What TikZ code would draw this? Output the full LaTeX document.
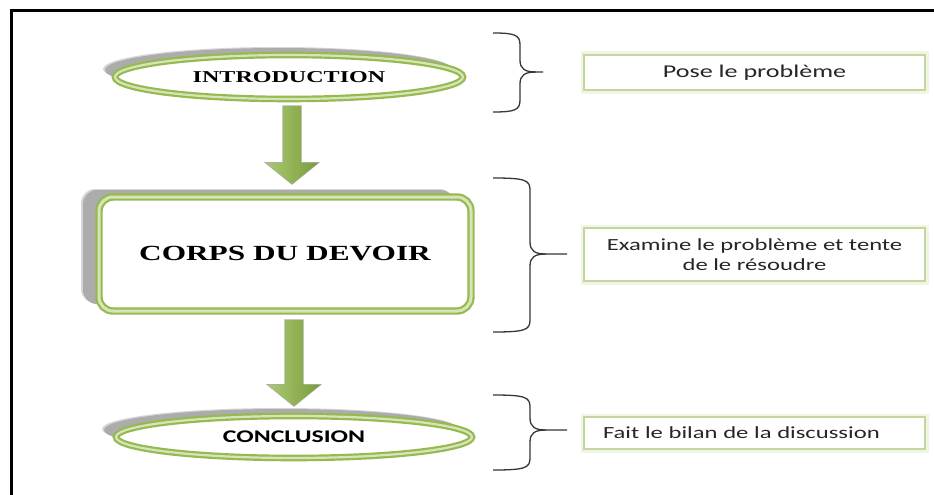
\documentclass[tikz,border=0pt]{standalone}
\usepackage{fontspec}
\usetikzlibrary{calc,shapes.geometric,shadows}
\newfontfamily\headfont[FakeStretch=1.45]{Liberation Serif}
\newfontfamily\bodyfont[FakeStretch=1.45]{Carlito}
\definecolor{leaf}{RGB}{150,186,80}
\definecolor{leafdark}{RGB}{120,158,55}
\definecolor{leaflight}{RGB}{214,228,186}
\definecolor{boxline}{RGB}{195,214,155}
\definecolor{shadeA}{RGB}{172,172,172}
\definecolor{shadeB}{RGB}{214,214,214}
\definecolor{braceink}{RGB}{55,55,55}

% right-hand curly brace: left end x, stem x, tip x, top y, middle y, bottom y
\newcommand\sidebrace[6]{%
  \draw[braceink, line width=1.3pt, line join=round]
    (#1,#4) .. controls (#2-5,#4) and (#2,#4+2) .. (#2,#4+12)
    -- (#2,#5-12) .. controls (#2,#5-3) and (#2+5,#5) .. (#2+16,#5) -- (#3,#5);
  \draw[braceink, line width=1.3pt, line join=round]
    (#2+16,#5) .. controls (#2+5,#5) and (#2,#5+3) .. (#2,#5+12)
    -- (#2,#6-12) .. controls (#2,#6-2) and (#2-5,#6) .. (#1,#6);
}

% block arrow pointing down, from coordinate #1 (top of shaft) to #2 (tip)
\newcommand\flowarrow[2]{%
  \draw[shadeA, line width=1.4pt, line join=miter, shift={(3.5pt,-3pt)}]
    let \p1=(#1), \p2=(#2) in
    (\x1-9pt,\y1) -- (\x1+9pt,\y1) -- (\x1+9pt,\y2+21pt) -- (\x1+26pt,\y2+21pt)
    -- (\x1,\y2) -- (\x1-26pt,\y2+21pt) -- (\x1-9pt,\y2+21pt) -- cycle;
  \shade[left color=leaf!80, right color=leafdark]
    let \p1=(#1), \p2=(#2) in
    (\x1-9pt,\y1) -- (\x1+9pt,\y1) -- (\x1+9pt,\y2+21pt) -- (\x1+26pt,\y2+21pt)
    -- (\x1,\y2) -- (\x1-26pt,\y2+21pt) -- (\x1-9pt,\y2+21pt) -- cycle;
}

\tikzset{
  ring/.style={draw=leaf, line width=2.2pt, double=leaflight, double distance=2.2pt, fill=white},
  softshadow/.style 2 args={
    general shadow={shadow xshift=#1-2pt, shadow yshift=#2+1pt, fill=shadeB},
    general shadow={shadow xshift=#1, shadow yshift=#2, fill=shadeA}},
  stage/.style={ellipse, ring, inner sep=0pt},
  bigstage/.style={rectangle, rounded corners=14pt, ring, double distance=3pt, inner sep=0pt},
  note/.style={draw=boxline, line width=2pt, fill=white, inner sep=0pt, align=center,
    preaction={draw=leaf!14, line width=7pt},
    font=\bodyfont\fontsize{17}{20.5}\selectfont, text=black!85},
  frameline/.style={line width=3pt, black}
}

\begin{document}
\begin{tikzpicture}[x=1pt, y=-1pt]
\useasboundingbox (0,0) rectangle (934,495);
\fill[white] (0,0) rectangle (934,495);

% page frame
\draw[frameline] (9.5,10.5) -- (934,10.5);
\draw[frameline] (11,9) -- (11,495);

% stages of the essay
\node[stage, softshadow={-10pt}{7pt}, minimum width=348pt, minimum height=44pt] (intro) at (289,77)
  {\headfont\bfseries\fontsize{16.6}{20}\selectfont INTRODUCTION};
\node[bigstage, softshadow={-16pt}{7pt}, minimum width=372pt, minimum height=114pt] (body) at (285,254)
  {\headfont\bfseries\fontsize{21.6}{26}\selectfont CORPS DU DEVOIR};
\node[stage, softshadow={-12pt}{7pt}, minimum width=356pt, minimum height=42pt] (concl) at (294,437)
  {\bodyfont\bfseries\fontsize{17.8}{21}\selectfont CONCLUSION};

% descriptions
\node[note, minimum width=341pt, minimum height=35pt, font=\bodyfont\fontsize{18}{21}\selectfont]
  (n1) at (754.5,72.5) {Pose le problème};
\node[note, minimum width=341pt, minimum height=53pt] (n2) at (754.5,254.5)
  {Examine le problème et tente\\de le résoudre};
\node[note, minimum width=341pt, minimum height=32pt, text width=303pt, align=left, inner xsep=19pt]
  (n3) at (754.5,433) {Fait le bilan de la discussion};

% arrows between the stages
\coordinate (a1) at ($(intro.south)+(3,6)$);
\coordinate (a1t) at ($(body.north)+(7,-12)$);
\coordinate (a2) at ($(body.south)+(9,8)$);
\coordinate (a2t) at ($(concl.north)+(0,-9)$);
\flowarrow{a1}{a1t}
\flowarrow{a2}{a2t}

% braces
\sidebrace{493}{520}{543}{33}{72}{112}
\sidebrace{493}{530}{567}{178}{254}{332}
\sidebrace{493}{530}{567}{395}{430}{470}
\end{tikzpicture}
\end{document}
